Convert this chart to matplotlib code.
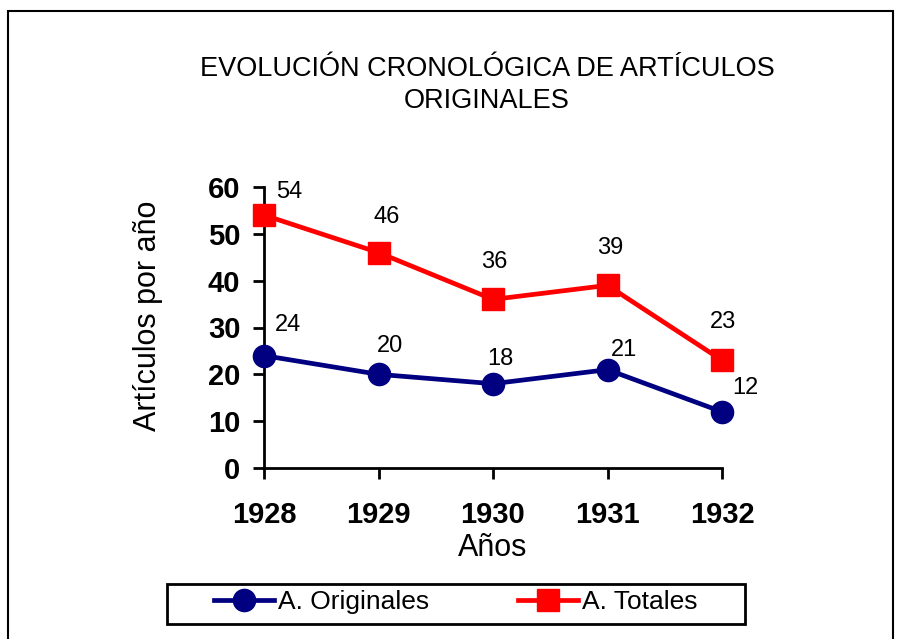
import matplotlib
matplotlib.use("Agg")
import matplotlib.pyplot as plt
from matplotlib.patches import Rectangle

plt.rcParams['font.family'] = ['Liberation Sans', 'DejaVu Sans']

# --- Data ---
years = ["1928", "1929", "1930", "1931", "1932"]
originales = [24, 20, 18, 21, 12]
totales = [54, 46, 36, 39, 23]

# label offsets in pixels (dx, dy) from each point
off_orig = [(24, 31), (11, 28), (7, 25), (17, 20), (23, 24)]
off_tot = [(25, 23), (8, 36), (1, 37), (3, 37), (1, 38)]

NAVY = "#000080"
RED = "#FF0000"
W, H = 899, 639

fig = plt.figure(figsize=(W / 100, H / 100), dpi=100)
ax = fig.add_axes([264 / W, 171 / H, (722 - 264) / W, (468 - 187) / H])

x = list(range(len(years)))
ax.plot(x, originales, color=NAVY, lw=3.4, marker="o", ms=16, label="A. Originales",
        clip_on=False, zorder=3)
ax.plot(x, totales, color=RED, lw=3.4, marker="s", ms=16, label="A. Totales",
        clip_on=False, zorder=3)

for i in x:
    ax.annotate(str(originales[i]), (i, originales[i]), xytext=(off_orig[i][0] * 0.72, off_orig[i][1] * 0.72),
                textcoords="offset points", ha="center", va="center", fontsize=17)
    ax.annotate(str(totales[i]), (i, totales[i]), xytext=(off_tot[i][0] * 0.72, off_tot[i][1] * 0.72),
                textcoords="offset points", ha="center", va="center", fontsize=17)

ax.set_xlim(0, 4)
ax.set_ylim(0, 60)
ax.set_xticks(x)
ax.set_xticklabels(years, fontsize=21, fontweight="bold")
ax.set_yticks(range(0, 61, 10))
ax.set_yticklabels([str(v) for v in range(0, 61, 10)], fontsize=21, fontweight="bold")
ax.tick_params(axis="both", direction="out", length=8, width=2)
ax.tick_params(axis="x", pad=16)
ax.tick_params(axis="y", pad=9)
for side in ["top", "right"]:
    ax.spines[side].set_visible(False)
for side in ["left", "bottom"]:
    ax.spines[side].set_linewidth(2)

fig.text(493 / W, 1 - 548 / H, "Años", ha="center", va="center", fontsize=22)
fig.text(148 / W, 1 - 316 / H, "Artículos por año", ha="center", va="center",
         rotation=90, fontsize=22)

fig.text(487 / W, 1 - 85 / H, "EVOLUCIÓN CRONOLÓGICA DE ARTÍCULOS\nORIGINALES",
         ha="center", va="center", fontsize=19.5, linespacing=1.3)

leg = fig.legend(loc="center", bbox_to_anchor=(456 / W, 1 - 602 / H), ncol=2,
                 fontsize=19, frameon=False, handlelength=2.27,
                 handletextpad=0.15, columnspacing=3.37, borderpad=0, borderaxespad=0)

# legend frame
fig.patches.append(Rectangle((167 / W, 1 - 624 / H), (745 - 167) / W, 40 / H,
                             transform=fig.transFigure, fill=False, edgecolor="black", lw=2))
# outer chart border
fig.patches.append(Rectangle((8 / W, -0.05), (893 - 8) / W, (H - 11) / H + 0.05,
                             transform=fig.transFigure, fill=False, edgecolor="black", lw=1.5))

fig.savefig("out.png", dpi=100)
